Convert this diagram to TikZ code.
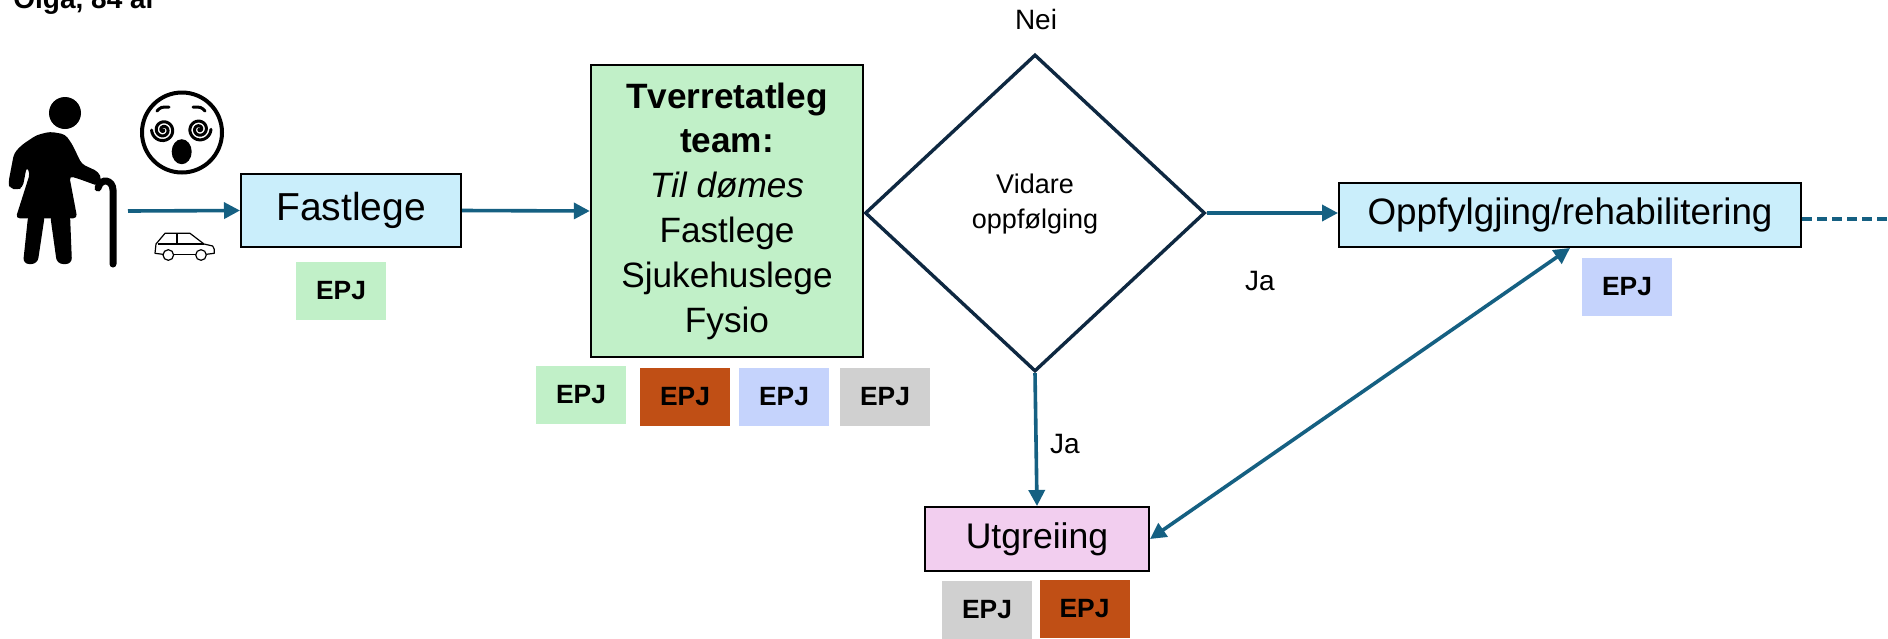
\documentclass[tikz,border=0pt]{standalone}
\usepackage{fontspec}
\setmainfont{Liberation Sans}
\usetikzlibrary{arrows.meta,shapes.geometric}
\definecolor{pilblaa}{HTML}{156082}
\definecolor{ruter}{HTML}{0E2841}
\definecolor{lyseblaa}{HTML}{CAEEFB}
\definecolor{lysegroenn}{HTML}{C1F0C8}
\definecolor{rosa}{HTML}{F2CEEF}
\definecolor{brent}{HTML}{C04F15}
\definecolor{blaaepj}{HTML}{C5D3FC}
\definecolor{graaepj}{HTML}{D0D0D0}
\tikzset{
  boks/.style={draw=black, line width=1pt, inner sep=0pt, align=center},
  epj/.style={fill=#1, minimum width=45pt, minimum height=29pt, inner sep=0pt,
    font=\fontsize{13.2}{15}\selectfont\bfseries},
  pil/.style={draw=pilblaa, line width=1.8pt, -{Triangle[length=8pt,width=8pt]}},
}

\begin{document}
\begin{tikzpicture}[x=0.5pt, y=-0.5pt]
\useasboundingbox (0,0) rectangle (1888,638);
\fill[white] (0,0) rectangle (1888,638);
\node[font=\fontsize{14}{17}\selectfont\bfseries, anchor=base west, inner sep=0pt] (tittel) at (13,8) {Olga, 84 år};
% Olga
\fill (65,113) circle[radius=16];
\fill[rounded corners=2] (50,131.7) -- (65,134.3) -- (71.7,143.3) -- (81.7,164) -- (98.3,171.7) -- (101.7,179.3) -- (98.3,186) -- (80,179.3) -- (69.3,176) -- (77.3,218.3) -- (15.7,218.3) -- (30,173.3) -- (26.7,166.7) -- (22.7,187.3) -- (17.3,190) -- (10,188.3) -- (8.3,183.3) -- (14,153.3) -- (21.7,145) -- (36.7,135) -- cycle;
\fill[rounded corners=3] (28.3,214) -- (45,214) -- (37.5,264) -- (23,264) -- cycle;
\fill[rounded corners=3] (50,214) -- (70,214) -- (72,264) -- (57,264) -- cycle;
\draw[line width=3.5pt, line cap=round] (113,264) -- (113,190) .. controls (113,180) and (101,177) .. (98,188);
% fjes
\draw[line width=2pt] (182,132.5) circle[radius=40];
\draw[line width=1.5pt, line cap=round] (157,111) .. controls (161,107) .. (169,107);
\draw[line width=1.5pt, line cap=round] (193,107) .. controls (201,107) .. (205,111);
\draw[line width=1.5pt, line cap=round] plot[domain=0:900, samples=70, smooth] ({163.3+0.013*\x*cos(\x)}, {130+0.013*\x*sin(\x)});
\draw[line width=1.5pt, line cap=round] plot[domain=0:900, samples=70, smooth] ({199.3-0.013*\x*cos(\x)}, {129.3+0.013*\x*sin(\x)});
\fill (181.7,151.7) ellipse[x radius=10, y radius=12.5];
% bil
\draw[line width=0.6pt, line join=round] (163,254.3) -- (155,253.3) -- (156,244) -- (165,233.3) -- (190,233.3) -- (204,244) -- (212.7,246) -- (214.3,249.3) -- (214.3,253.3) -- (206.3,254.3);
\draw[line width=0.6pt] (173.5,254.3) -- (195.7,254.3);
\draw[line width=0.6pt] (158,244) -- (204,244) (177,233.3) -- (177,244);
\draw[line width=0.6pt] (168.3,255) circle[radius=5.3] (201,255) circle[radius=5.3];
\coordinate (olgaut) at (128,211);
% boksar
\node[boks, fill=lyseblaa, minimum width=110pt, minimum height=36.5pt, font=\fontsize{19.5}{23}\selectfont] (fastlege) at (351,210.5) {Fastlege};
\node[boks, fill=lysegroenn, line width=1.2pt, minimum width=136pt, minimum height=146pt, font=\fontsize{17.6}{22.4}\selectfont] (team) at (727,211) {\textbf{Tverretatleg}\\\textbf{team:}\\\textit{Til dømes}\\Fastlege\\Sjukehuslege\\Fysio};
\node[diamond, draw=ruter, line width=1.7pt, minimum width=170pt, minimum height=158.5pt, inner sep=0pt, align=center, text depth=11.5pt, font=\fontsize{13.5}{17.5}\selectfont] (vidare) at (1035,213) {Vidare\\oppfølging};
\node[boks, fill=lyseblaa, minimum width=231pt, minimum height=32pt, font=\fontsize{18.4}{22}\selectfont] (oppf) at (1570,215) {Oppfylgjing/rehabilitering};
\node[boks, fill=rosa, minimum width=112pt, minimum height=32pt, font=\fontsize{17.8}{22}\selectfont] (utgreiing) at (1037,539) {Utgreiing};
% EPJ
\node[epj=lysegroenn] (epj1) at (341,290.5) {EPJ};
\node[epj=lysegroenn] (epj2) at (581,395) {EPJ};
\node[epj=brent] (epj3) at (685,397) {EPJ};
\node[epj=blaaepj] (epj4) at (784,397) {EPJ};
\node[epj=graaepj] (epj5) at (885,397) {EPJ};
\node[epj=blaaepj] (epj6) at (1627,287) {EPJ};
\node[epj=graaepj] (epj7) at (987,610) {EPJ};
\node[epj=brent] (epj8) at (1084.5,609) {EPJ};
% tekst
\node[font=\fontsize{14}{17}\selectfont, anchor=base] (nei) at (1036,29) {Nei};
\node[font=\fontsize{14}{17}\selectfont, anchor=base] (ja1) at (1260,290) {Ja};
\node[font=\fontsize{14}{17}\selectfont, anchor=base] (ja2) at (1065,453) {Ja};
% pilar
\coordinate (kant) at (1888,219);
\draw[pil] (olgaut) -- (fastlege.west);
\draw[pil] (fastlege.east) -- (team.west);
\draw[pil] (vidare.east) -- (vidare.east -| oppf.west);
\draw[pil] (vidare.south) -- (utgreiing.north);
\draw[pil, {Triangle[length=8pt,width=8pt]}-{Triangle[length=8pt,width=8pt]}] (utgreiing.east) -- (oppf.south);
\draw[draw=pilblaa, line width=1.8pt, dash pattern=on 5pt off 2.5pt] (oppf.east |- kant) -- (kant);
\end{tikzpicture}
\end{document}
